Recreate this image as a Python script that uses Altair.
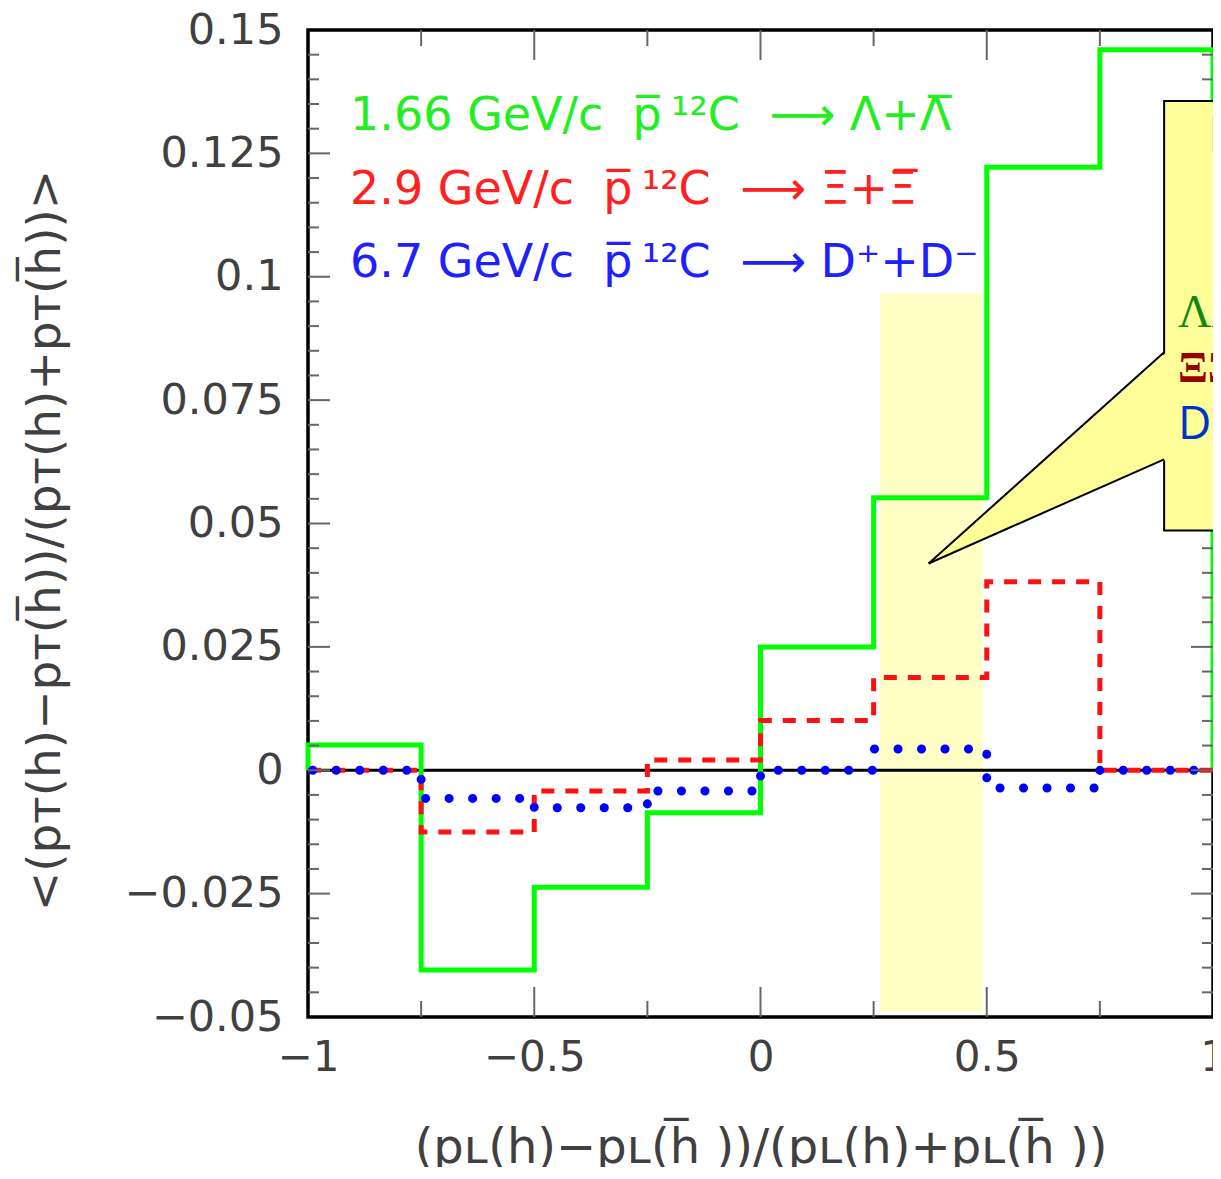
import altair as alt
import pandas as pd
import numpy as np

# ---------------- data ----------------
edges = [-1.0, -0.75, -0.5, -0.25, 0.0, 0.25, 0.5, 0.75, 1.0]
green_vals = [0.0051, -0.0405, -0.0237, -0.0086, 0.0250, 0.0552, 0.1222, 0.1460]
red_vals = [0.0, -0.0125, -0.0042, 0.0021, 0.0101, 0.0188, 0.0382, 0.0]
blue_vals = [0.0, -0.0057, -0.0076, -0.0042, 0.0, 0.0043, -0.0036, 0.0]

x_label_values = [-1, -0.5, 0, 0.5, 1]
y_label_values = [-0.05, -0.025, 0, 0.025, 0.05, 0.075, 0.1, 0.125, 0.15]
x_major_ticks = [-0.5, 0.0, 0.5]
x_minor_ticks = [-0.75, -0.25, 0.25, 0.75]
y_all_ticks = [round(v, 3) for v in np.arange(-0.045, 0.1451, 0.005)]
y_major_ticks = [v for v in y_all_ticks if abs(round(v / 0.025) * 0.025 - v) < 1e-9]
y_minor_ticks = [v for v in y_all_ticks if v not in y_major_ticks]

SP = " \u00a0"
legend_lines = [
    "1.66 GeV/c" + SP + "p\u0305\u2009\u00b9\u00b2C" + SP + "\u27f6 " + "\u039b+\u039b\u0305",
    "2.9 GeV/c" + SP + "p\u0305\u2009\u00b9\u00b2C" + SP + "\u27f6 " + "\u039e+\u039e\u0305",
    "6.7 GeV/c" + SP + "p\u0305\u2009\u00b9\u00b2C" + SP + "\u27f6 " + "D\u207a+D\u207b",
]
legend_colors = ["#22ee22", "#ff2020", "#2020ff"]
legend_x = [-0.907, -0.907, -0.907]
legend_y = [0.1297, 0.1147, 0.0999]

band = {"x": 0.2635, "x2": 0.4906, "y": -0.049, "y2": 0.0967}
box = {"x": 0.892, "x2": 1.6, "y": 0.0486, "y2": 0.1356}
tip = (0.3716, 0.0419)
join_upper = (0.892, 0.0847)
join_lower = (0.892, 0.0630)
callout_texts = ["F", "\u039b\u039b\u0305", "\u039e\u039e\u0305", "DD\u0305"]
callout_colors = ["#000000", "#118811", "#990000", "#0033cc"]
callout_fonts = ["DejaVu Sans", "Liberation Serif", "Liberation Serif", "Open Sans"]
callout_sizes = [50, 46, 44, 46]
callout_x = [0.989, 0.9228, 0.9228, 0.9228]
callout_y = [0.1252, 0.0898, 0.0786, 0.0671]

W, H = 905, 987
FONT = "DejaVu Sans"
TXT = "#404040"

xs = alt.Scale(domain=[-1, 1], nice=False, zero=False)
ys = alt.Scale(domain=[-0.05, 0.15], nice=False, zero=False)


def step_df(vals):
    px = [edges[0]] + edges[:-1] + [edges[-1]]
    py = [0.0] + list(vals) + [0.0]
    return pd.DataFrame({"x": px, "y": py, "o": list(range(len(px)))})


x_axis = alt.Axis(
    values=x_label_values, labelExpr="format(datum.value, '~g')",
    ticks=False, domain=False, grid=False,
    labelFont=FONT, labelFontSize=42, labelColor=TXT, labelPadding=20,
    labelFlush=False, labelOverlap=False,
    title="(p\u029f(h)\u2212p\u029f(h\u0305 ))/(p\u029f(h)+p\u029f(h\u0305 ))",
    titleFont=FONT, titleFontSize=48, titleFontWeight="normal", titleColor=TXT,
    titleY=131, titleBaseline="middle",
)
y_axis = alt.Axis(
    values=y_label_values, labelExpr="format(datum.value, '~g')",
    ticks=False, domain=False, grid=False,
    labelFont=FONT, labelFontSize=43, labelColor=TXT, labelPadding=25,
    labelOverlap=False,
    title="<(p\u1d1b(h)\u2212p\u1d1b(h\u0305))/(p\u1d1b(h)+p\u1d1b(h\u0305))>",
    titleFont=FONT, titleFontSize=47, titleFontWeight="normal", titleColor=TXT,
    titleX=-263, titleY=510, titleBaseline="middle", titleAlign="center", titleAngle=-90,
)

# band
band_layer = alt.Chart(pd.DataFrame([band])).mark_rect(color="#ffffc6").encode(
    x=alt.X("x:Q", scale=xs, axis=x_axis), x2="x2:Q",
    y=alt.Y("y:Q", scale=ys, axis=y_axis), y2="y2:Q",
)

zero_layer = alt.Chart(pd.DataFrame({"y": [0.0]})).mark_rule(
    color="black", strokeWidth=3
).encode(y=alt.Y("y:Q", scale=ys))


def hist_layer(vals, **mk):
    return alt.Chart(step_df(vals)).mark_line(interpolate="step-after", **mk).encode(
        x=alt.X("x:Q", scale=xs), y=alt.Y("y:Q", scale=ys), order="o:Q"
    )


green_layer = hist_layer(green_vals, color="#00ff00", strokeWidth=5)
red_layer = hist_layer(red_vals, color="#ff1010", strokeWidth=5, strokeDash=[13, 11])
blue_layer = hist_layer(blue_vals, color="#0000ff", strokeWidth=9, strokeDash=[0.1, 23.4],
                        strokeCap="round", strokeDashOffset=18.8)


# inside ticks
def yticks(vals, x0, x1):
    return alt.Chart(pd.DataFrame({"y": vals})).mark_rule(color="#666", strokeWidth=2).encode(
        y=alt.Y("y:Q", scale=ys), x=alt.value(x0), x2=alt.value(x1)
    )


def xticks(vals, y0, y1):
    return alt.Chart(pd.DataFrame({"x": vals})).mark_rule(color="#666", strokeWidth=2).encode(
        x=alt.X("x:Q", scale=xs), y=alt.value(y0), y2=alt.value(y1)
    )


tick_layers = [
    yticks(y_major_ticks, 0, 22), yticks(y_minor_ticks, 0, 11),
    yticks(y_major_ticks, W, W - 22), yticks(y_minor_ticks, W, W - 11),
    xticks(x_major_ticks, H, H - 30), xticks(x_minor_ticks, H, H - 16),
    xticks(x_major_ticks, 0, 30), xticks(x_minor_ticks, 0, 16),
]

legend_df = pd.DataFrame({"x": legend_x, "y": legend_y, "t": legend_lines, "c": legend_colors})
legend_layer = alt.Chart(legend_df).mark_text(
    align="left", baseline="alphabetic", font=FONT, fontSize=46
).encode(
    x=alt.X("x:Q", scale=xs), y=alt.Y("y:Q", scale=ys), text="t:N",
    color=alt.Color("c:N", scale=None),
)

# callout
box_layer = alt.Chart(pd.DataFrame([box])).mark_rect(
    fill="#ffff99", stroke="black", strokeWidth=2, clip=False
).encode(x=alt.X("x:Q", scale=xs), x2="x2:Q", y=alt.Y("y:Q", scale=ys), y2="y2:Q")

tri_df = pd.DataFrame({
    "x": [tip[0], join_upper[0] + 0.0055],
    "y": [tip[1], join_upper[1]],
    "y2": [tip[1], join_lower[1]],
})
tri_layer = alt.Chart(tri_df).mark_area(color="#ffff99", opacity=1, clip=False).encode(
    x=alt.X("x:Q", scale=xs), y=alt.Y("y:Q", scale=ys), y2="y2:Q"
)
edge_df = pd.DataFrame({
    "x": [tip[0], tip[0]], "y": [tip[1], tip[1]],
    "x2": [join_upper[0], join_lower[0]], "y2": [join_upper[1], join_lower[1]],
})
edge_layer = alt.Chart(edge_df).mark_rule(color="black", strokeWidth=2, clip=False).encode(
    x=alt.X("x:Q", scale=xs), x2="x2:Q", y=alt.Y("y:Q", scale=ys), y2="y2:Q"
)
ct_df = pd.DataFrame({"x": callout_x, "y": callout_y, "t": callout_texts, "c": callout_colors})
ct_layers = []
for i in range(len(ct_df)):
    ct_layers.append(
        alt.Chart(ct_df.iloc[[i]]).mark_text(
            align="left", baseline="alphabetic", font=callout_fonts[i],
            fontSize=callout_sizes[i], clip=False,
            fontWeight="bold" if i == 2 else "normal"
        ).encode(x=alt.X("x:Q", scale=xs), y=alt.Y("y:Q", scale=ys), text="t:N",
                 color=alt.Color("c:N", scale=None))
    )

chart = alt.layer(
    band_layer, zero_layer, green_layer, red_layer, blue_layer, *tick_layers,
    legend_layer, box_layer, tri_layer, edge_layer, *ct_layers,
).properties(
    width=W, height=H,
    autosize=alt.AutoSizeParams(type="none"),
    padding={"left": 300, "top": 22, "right": 0, "bottom": 150},
    background="white",
).configure_view(stroke="black", strokeWidth=3.5)

chart.save("out.html", embed_options={"renderer": "svg", "actions": False})
